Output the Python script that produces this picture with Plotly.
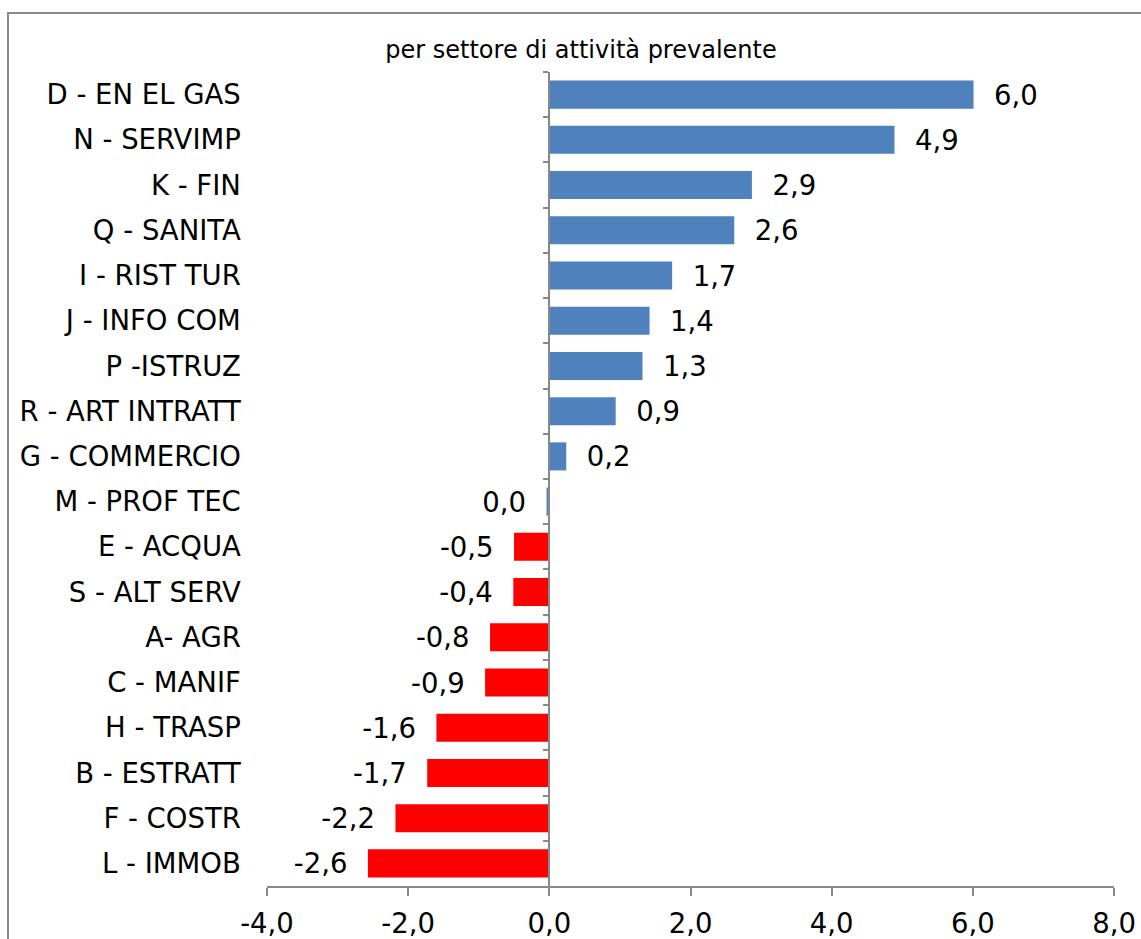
import plotly.graph_objects as go

categories = ["D - EN EL GAS", "N - SERVIMP", "K - FIN", "Q - SANITA", "I - RIST TUR",
              "J - INFO COM", "P -ISTRUZ", "R - ART INTRATT", "G - COMMERCIO", "M - PROF TEC",
              "E - ACQUA", "S - ALT SERV", "A- AGR", "C - MANIF", "H - TRASP",
              "B - ESTRATT", "F - COSTR", "L - IMMOB"]
values = [6.01, 4.89, 2.87, 2.62, 1.74, 1.42, 1.32, 0.94, 0.24, -0.04,
          -0.50, -0.51, -0.84, -0.91, -1.60, -1.73, -2.18, -2.57]
value_labels = ["6,0", "4,9", "2,9", "2,6", "1,7", "1,4", "1,3", "0,9", "0,2", "0,0",
                "-0,5", "-0,4", "-0,8", "-0,9", "-1,6", "-1,7", "-2,2", "-2,6"]
bar_colors = ["#4F81BD"] * 10 + ["#FF0000"] * 8
x_ticks = [-4, -2, 0, 2, 4, 6, 8]
x_tick_labels = ["-4,0", "-2,0", "0,0", "2,0", "4,0", "6,0", "8,0"]
title_text = "per settore di attività prevalente"

NB = "\u00a0\u00a0"
texts = [(NB + t) if v >= 0 else (t + NB) for t, v in zip(value_labels, values)]

W, H = 1141, 939
L, R, T, B = 267, 27, 72, 53
XMIN, XMAX = -4, 8
zero_pos = (0 - XMIN) / (XMAX - XMIN)
FS = 27.5
FONT = "DejaVu Sans"

fig = go.Figure(go.Bar(
    x=values, y=categories, orientation="h",
    marker=dict(color=bar_colors, line=dict(width=0)),
    text=texts, textposition="outside", constraintext="none", cliponaxis=False,
    textfont=dict(family=FONT, size=FS, color="#000000"),
    hoverinfo="skip",
))

pw = W - L - R
ph = H - T - B
fig.add_shape(type="rect", xref="paper", yref="paper",
              x0=(8 - L) / pw, x1=(1200 - L) / pw,
              y0=-(100) / ph, y1=1 + (T - 13) / ph,
              line=dict(color="#888888", width=2), fillcolor="rgba(0,0,0,0)", layer="below")

fig.update_layout(
    width=W, height=H,
    margin=dict(l=L, r=R, t=T, b=B, autoexpand=False),
    paper_bgcolor="white", plot_bgcolor="white",
    showlegend=False,
    bargap=0.38,
    font=dict(family=FONT, size=FS, color="#000000"),
    title=dict(text=title_text, x=581 / W, xref="container", xanchor="center",
               y=1 - 50 / H, yref="container", yanchor="middle",
               font=dict(family=FONT, size=24, color="#000000")),
    xaxis=dict(range=[XMIN, XMAX], tickvals=x_ticks, ticktext=x_tick_labels,
               showgrid=False, zeroline=False, showline=True, linecolor="#888888", linewidth=2,
               ticks="outside", ticklen=8, tickwidth=2, tickcolor="#888888",
               tickfont=dict(family=FONT, size=FS, color="#000000"),
               ticklabelstandoff=4, ticklabeloverflow="allow", automargin=False,
               fixedrange=True),
    yaxis=dict(autorange="reversed", anchor="free", position=zero_pos,
               showgrid=False, zeroline=False, showline=True, linecolor="#888888", linewidth=2,
               ticks="outside", ticklen=5, tickwidth=2, tickcolor="#888888", tickson="boundaries",
               tickfont=dict(family=FONT, size=FS, color="#000000"),
               ticklabelstandoff=302, ticklabeloverflow="allow", automargin=False,
               fixedrange=True),
)

fig.write_html("out.html", config={"displayModeBar": False},
               post_script="document.body.style.margin='0';")
